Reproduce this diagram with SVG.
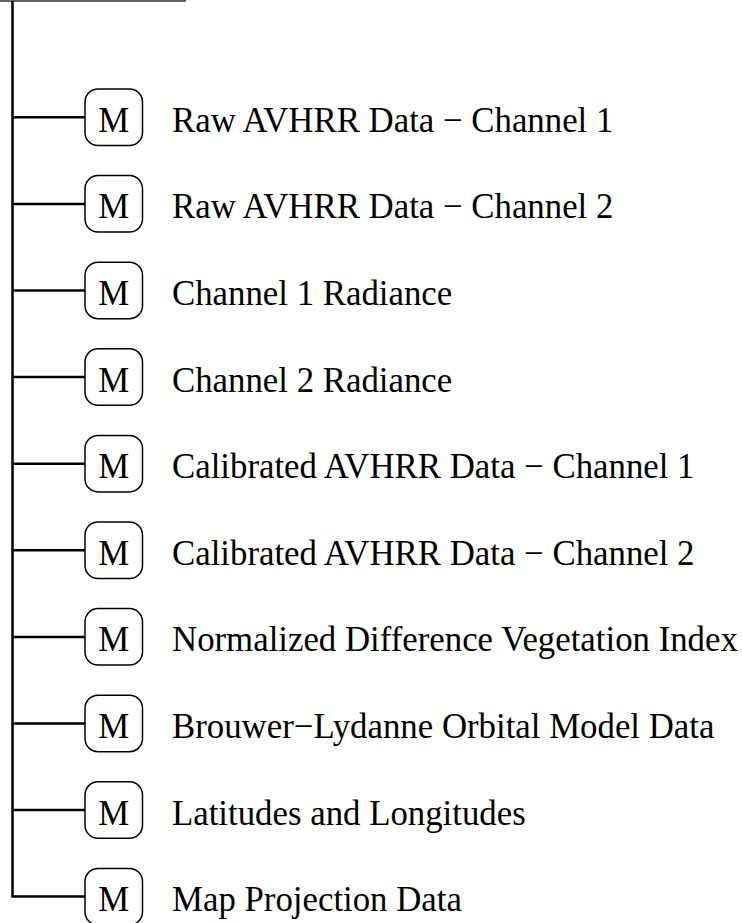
<svg xmlns="http://www.w3.org/2000/svg" width="742" height="923" viewBox="0 0 742 923">
<style>
.box{fill:#fff;stroke:#000;stroke-width:1.5}
.m{font-family:"Liberation Serif","Times New Roman",serif;font-size:34.8px;text-anchor:middle;fill:#000}
.lbl{font-family:"Liberation Serif","Times New Roman",serif;font-size:34.8px;fill:#000}
.conn{fill:none;stroke:#000;stroke-width:2.5}
</style>
<rect width="742" height="923" fill="#fff"/>
<g id="root">
<rect x="-20" y="-40" width="205" height="41" fill="none" stroke="#333" stroke-width="1.5"/>
</g>
<g id="connectors">
<path class="conn" d="M12.5 1 V896.4 H85"/>
<path class="conn" d="M12.5 117.3 H85"/>
<path class="conn" d="M12.5 203.9 H85"/>
<path class="conn" d="M12.5 290.5 H85"/>
<path class="conn" d="M12.5 377.1 H85"/>
<path class="conn" d="M12.5 463.7 H85"/>
<path class="conn" d="M12.5 550.3 H85"/>
<path class="conn" d="M12.5 636.9 H85"/>
<path class="conn" d="M12.5 723.5 H85"/>
<path class="conn" d="M12.5 810.1 H85"/>
</g>
<g id="n1"><rect class="box" x="85" y="89" width="57.5" height="56.5" rx="13"/><text class="m" x="113.7" y="131.8">M</text><text class="lbl" x="172" y="131.8">Raw AVHRR Data − Channel 1</text></g>
<g id="n2" transform="translate(0,86.6)"><rect class="box" x="85" y="89" width="57.5" height="56.5" rx="13"/><text class="m" x="113.7" y="131.8">M</text><text class="lbl" x="172" y="131.8">Raw AVHRR Data − Channel 2</text></g>
<g id="n3" transform="translate(0,173.2)"><rect class="box" x="85" y="89" width="57.5" height="56.5" rx="13"/><text class="m" x="113.7" y="131.8">M</text><text class="lbl" x="172" y="131.8">Channel 1 Radiance</text></g>
<g id="n4" transform="translate(0,259.8)"><rect class="box" x="85" y="89" width="57.5" height="56.5" rx="13"/><text class="m" x="113.7" y="131.8">M</text><text class="lbl" x="172" y="131.8">Channel 2 Radiance</text></g>
<g id="n5" transform="translate(0,346.4)"><rect class="box" x="85" y="89" width="57.5" height="56.5" rx="13"/><text class="m" x="113.7" y="131.8">M</text><text class="lbl" x="172" y="131.8">Calibrated AVHRR Data − Channel 1</text></g>
<g id="n6" transform="translate(0,433)"><rect class="box" x="85" y="89" width="57.5" height="56.5" rx="13"/><text class="m" x="113.7" y="131.8">M</text><text class="lbl" x="172" y="131.8">Calibrated AVHRR Data − Channel 2</text></g>
<g id="n7" transform="translate(0,519.6)"><rect class="box" x="85" y="89" width="57.5" height="56.5" rx="13"/><text class="m" x="113.7" y="131.8">M</text><text class="lbl" x="172" y="131.8">Normalized Difference Vegetation Index</text></g>
<g id="n8" transform="translate(0,606.2)"><rect class="box" x="85" y="89" width="57.5" height="56.5" rx="13"/><text class="m" x="113.7" y="131.8">M</text><text class="lbl" x="172" y="131.8">Brouwer−Lydanne Orbital Model Data</text></g>
<g id="n9" transform="translate(0,692.8)"><rect class="box" x="85" y="89" width="57.5" height="56.5" rx="13"/><text class="m" x="113.7" y="131.8">M</text><text class="lbl" x="172" y="131.8">Latitudes and Longitudes</text></g>
<g id="n10" transform="translate(0,779.4)"><rect class="box" x="85" y="89" width="57.5" height="56.5" rx="13"/><text class="m" x="113.7" y="131.8">M</text><text class="lbl" x="172" y="131.8">Map Projection Data</text></g>
</svg>
